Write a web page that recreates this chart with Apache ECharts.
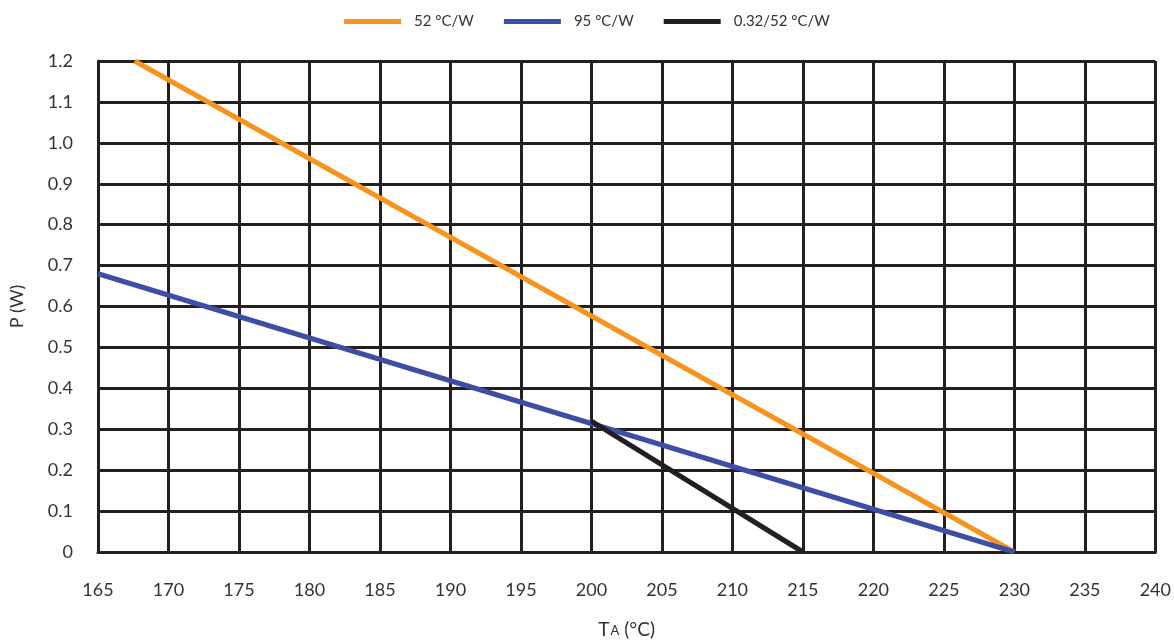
<!DOCTYPE html>
<html>
<head>
<meta charset="utf-8">
<script src="https://cdn.jsdelivr.net/npm/echarts@6/dist/echarts.min.js"></script>
<style>
  html, body { margin: 0; padding: 0; background: #fff; }
  #chart { width: 1174px; height: 644px; }
</style>
</head>
<body>
<div id="chart"></div>
<script>
  // ambient temperature (°C) / power (W) pairs
  const seriesNames = ['52 °C/W', '95 °C/W', '0.32/52 °C/W']
  const line52 = [[167.6, 1.2], [230, 0]]
  const line95 = [[165, 0.68], [230, 0]]
  const lineDerate = [[200, 0.32], [215, 0]]
  const seriesColors = ['#f7931e', '#3f4ea5', '#231f20']

  const chart = echarts.init(document.getElementById('chart'))
  const font = 'Lato'

  chart.setOption({
    animation: false,
    textStyle: { fontFamily: font },
    grid: { left: 98, right: 17, top: 61, bottom: 92 },
    legend: {
      top: 9,
      left: 'center',
      itemWidth: 57,
      itemHeight: 5,
      itemGap: 30,
      icon: 'rect',
      textStyle: { fontSize: 15, color: '#333', padding: [0, 0, 0, 8] },
      data: seriesNames
    },
    xAxis: {
      type: 'value',
      min: 165,
      max: 240,
      interval: 5,
      name: '{t|T}{s|A} (°C)',
      nameLocation: 'middle',
      nameGap: 68,
      nameTextStyle: {
        rich: {
          t: { fontSize: 19, color: '#333', fontFamily: font },
          s: { fontSize: 13, color: '#333', fontFamily: font, padding: [3, 0, 0, 1] }
        },
        fontSize: 19,
        color: '#333'
      },
      axisLine: { lineStyle: { color: '#231f20', width: 3 } },
      axisTick: { show: false },
      axisLabel: { fontSize: 18, color: '#333', margin: 29 },
      splitLine: { show: true, lineStyle: { color: '#231f20', width: 3 } }
    },
    yAxis: {
      type: 'value',
      min: 0,
      max: 1.2,
      interval: 0.1,
      name: 'P (W)',
      nameLocation: 'middle',
      nameGap: 72,
      nameRotate: 90,
      nameTextStyle: { fontSize: 18, color: '#333' },
      axisLine: { show: true, lineStyle: { color: '#231f20', width: 3 } },
      axisTick: { show: false },
      axisLabel: {
        fontSize: 18,
        color: '#333',
        margin: 25,
        formatter: v => (v === 0 ? '0' : v.toFixed(1))
      },
      splitLine: { show: true, lineStyle: { color: '#231f20', width: 3 } }
    },
    series: [
      { name: seriesNames[0], data: line52, color: seriesColors[0] },
      { name: seriesNames[1], data: line95, color: seriesColors[1] },
      { name: seriesNames[2], data: lineDerate, color: seriesColors[2] }
    ].map(s => ({
      type: 'line',
      name: s.name,
      data: s.data,
      symbol: 'none',
      itemStyle: { color: s.color },
      lineStyle: { color: s.color, width: 5 }
    }))
  })
</script>
</body>
</html>
